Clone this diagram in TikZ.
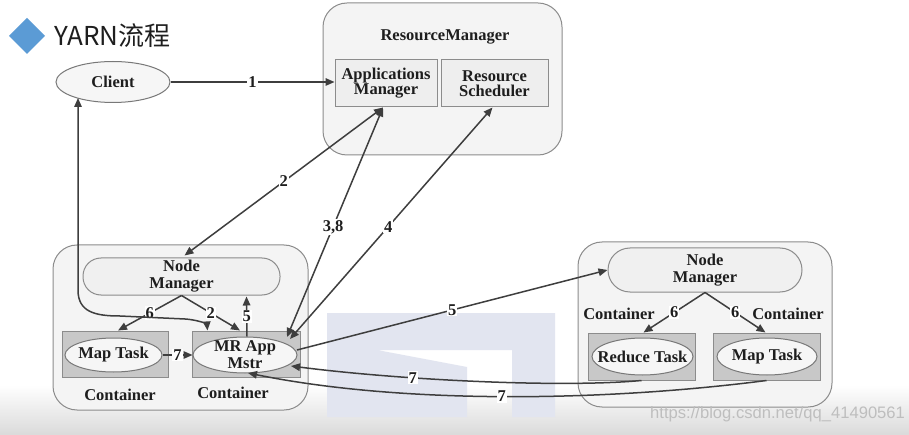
\documentclass[tikz,border=0pt]{standalone}
\usepackage{fontspec}
\setmainfont{Liberation Serif}
\newfontfamily\cjkfont{Noto Sans CJK SC}
\newfontfamily\wmfont{Liberation Sans}
\usetikzlibrary{arrows.meta,calc,shapes.geometric}
\definecolor{linec}{RGB}{62,62,62}
\definecolor{boxborder}{RGB}{140,140,140}
\definecolor{boxfill}{RGB}{244,244,244}
\definecolor{contfill}{RGB}{200,200,200}
\definecolor{ellfill}{RGB}{246,246,246}
\definecolor{diam}{RGB}{91,155,213}
\definecolor{wmark}{RGB}{226,229,240}
\definecolor{txt}{RGB}{30,30,30}
\begin{document}
\begin{tikzpicture}[x=1pt,y=-1pt,
  txtfont/.style={font=\bfseries\fontsize{16.5}{15}\selectfont, text=txt},
  tallfont/.style={font=\bfseries\fontsize{16.5}{17}\selectfont, text=txt},
  bigbox/.style={draw=boxborder, line width=1pt, fill=boxfill, rounded corners=24pt, inner sep=0pt},
  sbox/.style={draw=boxborder, line width=1pt, fill={rgb,255:red,238;green,238;blue,238}, inner sep=0pt, txtfont, align=center},
  nmbox/.style={draw=boxborder, line width=1pt, fill={rgb,255:red,240;green,240;blue,240}, inner sep=0pt, tallfont, align=center},
  cont/.style={draw=boxborder, line width=1pt, fill=contfill, inner sep=0pt},
  ell/.style={ellipse, draw={rgb,255:red,120;green,120;blue,120}, line width=1pt, fill=ellfill, inner sep=0pt},
  plain/.style={txtfont, inner sep=0pt, align=center},
  lbl/.style={txtfont, fill=white, inner sep=1pt},
  arr/.style={draw=linec, line width=1.5pt, -{Triangle[length=9pt,width=7.5pt]}},
  darr/.style={draw=linec, line width=1.5pt, {Triangle[length=9pt,width=7.5pt]}-{Triangle[length=9pt,width=7.5pt]}}
]
\path[use as bounding box] (0,0) rectangle (909,435);
\fill[white] (0,0) rectangle (909,435);
\shade[top color=white, bottom color={rgb,255:red,218;green,218;blue,218}] (0,385) rectangle (909,435);

% watermark block
\fill[wmark] (327,313) -- (555,313) -- (555,417) -- (512,417) -- (512,350) -- (377,350) -- (467,367) -- (467,417) -- (327,417) -- cycle;

% title
\fill[diam] (27,18) -- (45,36) -- (27,54) -- (9,36) -- cycle;
\node[anchor=west, inner sep=0pt, font=\cjkfont\fontsize{26}{28}\selectfont, text=txt] (title) at (54,36) {YARN流程};

% ResourceManager
\node[bigbox, minimum width=239, minimum height=152] (rm) at (442.5,79) {};
\node[plain] (rmlabel) at (445,37) {ResourceManager};
\node[sbox, minimum width=102, minimum height=47] (am) at (386,83.5) {Applications\\Manager};
\node[sbox, minimum width=107, minimum height=47] (rs) at (494.5,83.5) {Resource\\Scheduler};

% Client
\node[ell, minimum width=114, minimum height=41, label={[txtfont]center:Client}] (client) at (113,82) {};

% left node
\node[bigbox, minimum width=255, minimum height=165] (lnode) at (180.5,327.5) {};
\node[nmbox, rounded corners=18pt, minimum width=197, minimum height=37] (lnm) at (181.5,276.5) {Node\\Manager};
\node[cont, minimum width=106, minimum height=46] (mapc) at (115,354) {};
\node[ell, minimum width=97, minimum height=34, label={[txtfont]center:Map Task}] (mapl) at (113.5,355) {};
\node[cont, minimum width=108, minimum height=46] (mrc) at (246,354) {};
\node[ell, minimum width=104, minimum height=36, label={[tallfont, align=center]center:MR App\\Mstr}] (mr) at (245,355) {};
\node[plain] (lc1) at (120,395) {Container};
\node[plain] (lc2) at (233,393) {Container};

% right node
\node[bigbox, minimum width=254, minimum height=165] (rnode) at (705,324.5) {};
\node[nmbox, rounded corners=22pt, minimum width=194, minimum height=44] (rnm) at (705,270) {Node\\Manager};
\node[cont, minimum width=107, minimum height=47] (redc) at (641.5,356.5) {};
\node[ell, minimum width=101, minimum height=37, label={[txtfont]center:Reduce Task}] (red) at (642.5,356.5) {};
\node[cont, minimum width=107, minimum height=47] (map2c) at (766.5,356.5) {};
\node[ell, minimum width=100, minimum height=37, label={[txtfont]center:Map Task}] (map2) at (767,356.5) {};
\node[plain] (rc1) at (619,314) {Container};
\node[plain] (rc2) at (788,314) {Container};

% connectors
\draw[arr] (client.east) -- node[lbl]{1} (client.east -| am.west);
\draw[darr] ($(am.south)+(-3,0)$) -- node[lbl,pos=0.5]{2} ($(lnm.north)+(3,-2)$);
\draw[darr] ($(am.south)+(-3,0)$) -- node[lbl,pos=0.52]{3,8} ($(mr.center)+(42,-18)$);
\draw[darr] ($(rs.south)+(-2,0)$) -- node[lbl,pos=0.515]{4} ($(mr.center)+(45,-16)$);
\draw[arr] ($(mr.center)+(52,-5)$) -- node[lbl,pos=0.5]{5} (rnm.west);
\draw[arr] ($(mr.north)+(2,0)$) -- node[lbl,pos=0.5]{5} ($(lnm.south)+(65,1)$);
\draw[arr] (lnm.south) -- node[lbl,pos=0.5]{6} ($(mapc.north)+(3,0)$);
\draw[arr] (lnm.south) -- node[lbl,pos=0.5]{2} ($(mrc.north)+(-6,0)$);
\draw[darr] ($(client.center)+(-35,16)$) -- (78,290) .. controls (78,312) and (95,316) .. (120,316) -- (185,319) .. controls (200,320) and (207,325) .. ($(mrc.north west)+(16,0)$);
\draw[arr] (mapl.east) -- node[lbl,pos=0.5]{7} (mr.west);
\draw[arr] (rnm.south) -- node[lbl,pos=0.5]{6} ($(redc.north)+(2,0)$);
\draw[arr] (rnm.south) -- node[lbl,pos=0.5]{6} ($(map2c.north)+(-1,0)$);
\draw[arr] (redc.south) .. controls (560,388) and (400,380) .. node[lbl,pos=0.665]{7} ($(mr.center)+(46,11)$);
\draw[arr] (map2c.south) .. controls (600,402) and (400,404) .. node[lbl,pos=0.5]{7} ($(mr.center)+(3,18)$);

% watermark text
\node[anchor=west, inner sep=0pt, font=\wmfont\fontsize{16.6}{18}\selectfont, text={rgb,255:red,190;green,190;blue,190}] (wm) at (650,414) {https://blog.csdn.net/qq\_41490561};
\end{tikzpicture}
\end{document}
